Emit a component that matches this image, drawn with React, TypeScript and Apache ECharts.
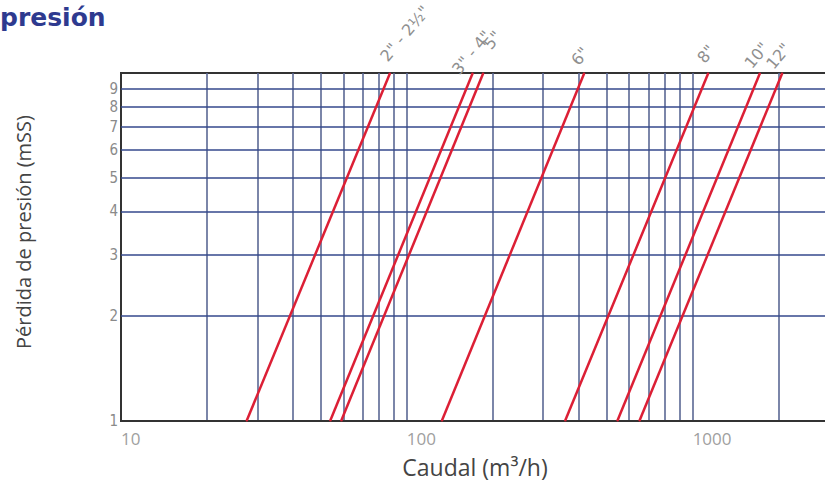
import React, { useEffect, useRef } from "react";
import * as echarts from "echarts";

// Pipe sizes (line labels)
const sizes = ['2" - 2½"', '3" - 4"', '5"', '6"', '8"', '10"', '12"'];
// Flow (m3/h) at 1 mSS and at 10 mSS for each size
const flowAtLow = [27.5, 53.9, 58.9, 132.5, 357.7, 545, 651];
const flowAtHigh = [87.4, 170.1, 185.2, 417.9, 1135, 1721, 2060];
const lossEnds = [1, 10];
// Grid lines
const xGridValues = [20, 30, 40, 50, 60, 70, 80, 90, 100, 200, 300, 400, 500, 600, 700, 800, 900, 1000, 2000];
const yGridValues = [2, 3, 4, 5, 6, 7, 8, 9];
const yLabelValues = [1, 2, 3, 4, 5, 6, 7, 8, 9];
const xLabelValues = [10, 100, 1000];
// label nudges (style only, px)
const labelNudgeX = [5, -12, 21, 0, 3, -4, -5];

export default function App() {
  const ref = useRef<HTMLDivElement>(null);
  useEffect(() => {
    document.body.style.margin = "0";
    const chart = echarts.init(ref.current!, null, { renderer: "svg" });

    const lineSeries = sizes.map((name, i) => ({
      type: "line",
      name,
      z: 5,
      symbol: "circle",
      symbolSize: 1,
      showSymbol: true,
      itemStyle: { color: "#dc1f35" },
      lineStyle: { color: "#dc1f35", width: 2.5 },
      data: [
        [flowAtLow[i], lossEnds[0]],
        {
          value: [flowAtHigh[i], lossEnds[1]],
          label: {
            show: true,
            formatter: name,
            position: "top",
            distance: 4,
            rotate: 50,
            align: "left",
            verticalAlign: "bottom",
            offset: [-2 + labelNudgeX[i], -3],
            color: "#8f8f8f",
            fontSize: 16,
            fontFamily: "DejaVu Sans, sans-serif",
          },
        },
      ],
    }));

    const option: any = {
      animation: false,
      backgroundColor: "#ffffff",
      grid: {
        left: 121,
        top: 73,
        width: 708,
        height: 348,
        show: true,
        borderColor: "#333333",
        borderWidth: 2,
        backgroundColor: "transparent",
        outerBoundsMode: "none",
        containLabel: false,
      },
      graphic: [
        {
          type: "text",
          left: 0,
          top: 5,
          style: {
            text: "presión",
            fill: "#2e3a8f",
            font: "bold 25px 'DejaVu Sans', sans-serif",
          },
        },
      ],
      xAxis: {
        type: "log",
        logBase: 10,
        min: 10,
        max: 3000,
        name: "Caudal (m³/h)",
        nameLocation: "middle",
        nameGap: 34,
        nameTextStyle: { color: "#444444", fontSize: 23, fontFamily: "Open Sans, sans-serif" },
        axisLine: { show: true, lineStyle: { color: "#333333", width: 2 } },
        axisTick: { show: false },
        splitLine: { show: false },
        axisLabel: {
          show: true,
          showMaxLabel: false,
          align: "left",
          margin: 9,
          color: "#a0a0a0",
          fontSize: 17,
          fontFamily: "Open Sans, sans-serif",
          formatter: (v: number) => (xLabelValues.indexOf(Math.round(v)) >= 0 ? String(Math.round(v)) : ""),
        },
      },
      yAxis: {
        type: "log",
        logBase: 10,
        min: 1,
        max: 10,
        name: "Pérdida de presión (mSS)",
        nameLocation: "middle",
        nameGap: 88,
        nameTextStyle: {
          color: "#444444",
          fontSize: 20,
          fontFamily: "Open Sans, sans-serif",
          padding: [0, 0, 0, 30],
        },
        axisLine: { show: true, lineStyle: { color: "#333333", width: 2 } },
        axisTick: { show: false },
        splitLine: { show: false },
        axisLabel: { show: false },
      },
      series: [
        {
          type: "line",
          z: 1,
          data: [],
          markLine: {
            silent: true,
            symbol: ["none", "none"],
            z: 1,
            label: { show: false },
            lineStyle: { color: "#5b6894", width: 1.6, type: "solid" },
            data: xGridValues.map((v) => ({ xAxis: v })),
          },
        },
        {
          type: "line",
          z: 1,
          data: [],
          markLine: {
            silent: true,
            symbol: ["none", "none"],
            z: 2,
            lineStyle: { color: "#34488d", width: 1.6, type: "solid" },
            label: {
              show: true,
              position: "start",
              distance: 3,
              color: "#8a8a8a",
              fontSize: 15,
              lineHeight: 15,
              fontFamily: "Liberation Sans Narrow, DejaVu Sans Condensed, sans-serif",
              formatter: (p: any) => String(p.value),
            },
            data: yLabelValues.map((v) => ({
              yAxis: v,
              lineStyle: yGridValues.indexOf(v) >= 0 ? undefined : { color: "#333333", width: 2 },
            })),
          },
        },
        ...lineSeries,
      ],
    };
    chart.setOption(option);
    return () => chart.dispose();
  }, []);
  return <div ref={ref} style={{ position: "absolute", left: 0, top: 0, width: 825, height: 481 }} />;
}
